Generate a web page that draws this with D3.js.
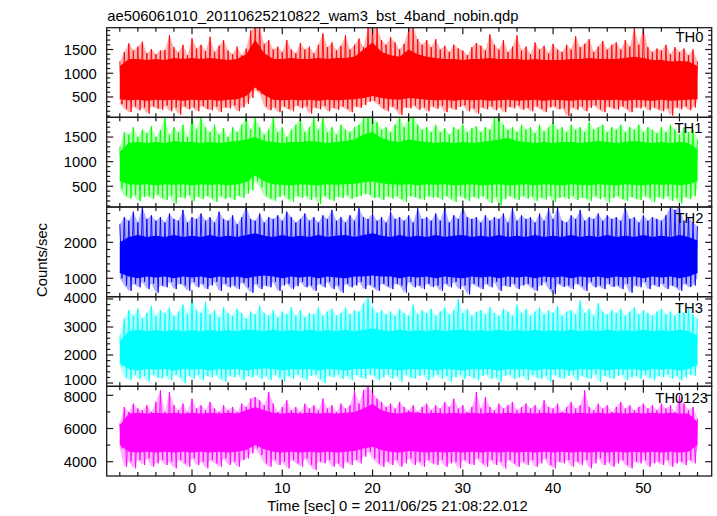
<!DOCTYPE html>
<html><head><meta charset="utf-8">
<script src="https://cdn.jsdelivr.net/npm/d3@7"></script>
<style>
body{margin:0;background:#fff}
text{font-family:"Liberation Sans",Arial,Helvetica,sans-serif;fill:#000}
</style>
</head><body>
<svg id="chart" width="717" height="516"></svg>
<script>
// ---------------- data ----------------
const title = "ae506061010_20110625210822_wam3_bst_4band_nobin.qdp";
const xLabel = "Time [sec] 0 = 2011/06/25 21:08:22.012";
const yLabel = "Counts/sec";
const bandNames = ["TH0", "TH1", "TH2", "TH3", "TH0123"];
const bandColors = ["#ff0000", "#00ff00", "#0000ff", "#00ffff", "#ff00ff"];
const tStart = -8;          // first sample time [s]
const spikeStep = 0.5;      // sampling of the max/min envelope [s]
const coreStep = 1;         // sampling of the dense band [s]
const xTickMajor = [0, 10, 20, 30, 40, 50];
const xTickMinorStep = 2;

// per-0.5 s maximum of the light curve
const th0Hi = [1250,1450,1630,1480,1560,1665,1420,1510,1400,1480,
 1490,1800,1550,1440,1600,1380,1735,1520,1600,1470,
 1770,1450,1580,1700,1480,1400,1560,1380,1520,1900,
 1960,1960,1620,1700,1500,1560,1450,1700,1500,1420,
 1640,1500,1560,1420,1600,1840,1550,1650,1480,1580,
 1800,1500,1600,1730,1550,1960,1950,1960,1700,1600,
 1760,1650,1500,1620,1940,1960,1720,1600,1700,1550,
 1720,1500,1580,1450,1600,1520,1480,1380,1550,1640,
 1580,1480,1820,1600,1500,1700,1450,1560,1800,1480,
 1560,1400,1650,1500,1580,1420,1620,1500,1450,1600,
 1500,1780,1550,1620,1720,1450,1560,1680,1500,1600,
 1650,1500,1700,1560,1960,1600,1960,1550,1450,1520,
 1480,1600,1400,1550,1450,1520,1380,1500,1250];
// per-0.5 s minimum
const th0Lo = [350,250,180,300,220,280,150,300,260,230,
 320,200,280,130,300,240,280,200,310,250,
 220,300,180,280,260,320,200,280,350,480,
 640,560,300,220,280,180,300,250,200,320,
 260,300,150,280,240,310,200,270,230,300,
 250,180,300,270,330,400,420,350,260,200,
 300,240,120,280,260,320,230,280,200,300,
 250,310,180,270,230,290,320,200,260,150,
 280,240,300,220,280,180,290,260,320,230,
 270,200,300,250,180,280,300,240,260,100,
 280,230,300,200,270,320,240,180,290,260,
 230,300,250,180,280,260,300,220,280,240,
 200,260,110,280,240,300,220,280,400];
// dense band, per 1 s
const th0CoreHi = [1150,1300,1300,1280,1300,1280,1320,1300,1320,1300,
 1320,1300,1280,1300,1400,1700,1420,1300,1300,1320,
 1300,1300,1320,1300,1320,1320,1350,1500,1650,1450,
 1380,1350,1500,1400,1350,1320,1300,1300,1280,1300,
 1300,1320,1300,1300,1300,1280,1300,1280,1280,1280,
 1300,1300,1320,1300,1300,1300,1320,1350,1320,1280,
 1280,1250,1260,1250,1150];
const th0CoreLo = [450,430,440,420,440,430,440,420,440,430,
 440,420,440,450,520,700,540,440,430,440,
 430,440,420,440,430,440,450,480,520,480,
 450,440,480,460,440,430,440,420,440,430,
 440,420,430,440,420,430,440,420,440,430,
 420,440,430,440,430,440,420,440,430,420,
 440,420,430,440,450];

const th1Hi = [1300,1600,1550,1700,1500,1650,1580,1720,1500,1640,
 1900,1550,1700,1600,1750,1500,1900,1650,1910,1700,
 1600,1750,1550,1680,1500,1700,1600,1750,1910,1650,
 1910,1700,1550,1650,1900,1600,1700,1500,1650,1750,
 1910,1600,1700,1910,1650,1910,1600,1700,1550,1750,
 1650,1600,1700,1750,1910,1910,1910,1800,1650,1700,
 1600,1750,1910,1700,1910,1910,1750,1650,1700,1600,
 1750,1600,1680,1550,1700,1650,1750,1600,1680,1720,
 1600,1700,1650,1910,1910,1750,1650,1700,1600,1750,
 1650,1700,1580,1750,1620,1700,1800,1650,1700,1600,
 1750,1650,1700,1600,1800,1650,1700,1750,1600,1700,
 1650,1750,1600,1700,1650,1750,1600,1700,1650,1580,
 1700,1600,1750,1650,1550,1700,1600,1650,1450];
const th1Lo = [450,300,250,320,200,280,300,240,330,260,
 220,310,150,280,250,320,200,290,240,300,
 260,180,300,240,280,220,310,260,350,420,
 600,480,300,250,200,280,320,240,180,300,
 260,300,220,280,140,300,250,200,290,260,
 320,240,280,300,350,330,260,280,220,300,
 250,300,240,180,300,280,250,220,300,260,
 280,230,300,250,180,300,260,200,290,240,
 300,250,160,280,110,240,300,260,220,300,
 250,290,200,270,230,300,180,260,280,240,
 300,220,270,250,200,300,240,280,170,260,
 300,240,200,280,250,220,300,260,180,280,
 240,300,200,260,150,280,240,300,450];
const th1CoreHi = [1200,1380,1400,1380,1400,1380,1420,1400,1400,1380,
 1400,1380,1400,1420,1450,1500,1420,1400,1380,1400,
 1400,1420,1400,1380,1400,1420,1450,1550,1600,1480,
 1420,1400,1450,1420,1400,1380,1400,1380,1400,1380,
 1400,1420,1450,1480,1420,1400,1380,1400,1380,1400,
 1400,1380,1400,1420,1400,1380,1400,1420,1400,1380,
 1400,1380,1400,1380,1250];
const th1CoreLo = [600,540,530,540,520,540,530,540,520,540,
 530,540,520,540,580,720,600,540,530,520,
 540,530,520,540,530,540,550,580,600,560,
 540,530,540,520,540,530,540,520,530,540,
 520,530,540,520,530,540,520,540,530,520,
 540,530,520,540,530,520,540,530,520,540,
 530,540,520,540,600];

const th2Hi = [2500,2700,2600,2850,2550,2980,2650,2750,2600,2700,
 2550,2800,2650,2600,2900,2550,2700,2650,2800,2600,
 2700,2550,2850,2650,2600,2750,2500,2700,2980,2650,
 2600,2800,2550,2700,2650,2750,2600,2850,2700,2550,
 2650,2800,2600,2700,2550,2750,2650,2900,2600,2700,
 2550,2750,2600,2950,2700,2650,2800,2600,2700,2550,
 2850,2650,2700,2600,2750,2550,2950,2650,2700,2600,
 2800,2600,2980,2550,2750,2650,2980,2700,2650,2700,
 2550,2750,2600,2700,2650,2800,2550,2980,2600,2750,
 2650,2700,2550,2800,2600,2950,2650,2980,2600,2550,
 2750,2650,2900,2600,2700,2650,2800,2600,2750,2650,
 2700,2600,2980,2650,2700,2550,2750,2600,2700,2650,
 2600,2750,2980,2900,2980,2600,2700,2550,2450];
const th2Lo = [1000,800,650,850,750,900,700,850,600,800,
 750,900,700,850,800,650,900,750,850,700,
 800,900,650,850,750,800,700,880,750,600,
 850,700,800,750,900,650,800,850,700,780,
 900,750,800,650,850,750,900,700,800,600,
 850,750,800,900,700,820,750,650,850,780,
 700,850,800,600,900,750,800,700,850,760,
 800,650,850,750,900,700,800,550,850,780,
 700,850,750,900,650,800,760,850,700,800,
 850,750,650,800,900,700,560,850,760,800,
 700,850,780,650,900,750,800,700,850,760,
 800,700,850,600,800,750,900,700,820,760,
 850,700,800,750,650,850,760,800,1000];
const th2CoreHi = [2000,2150,2200,2150,2180,2150,2200,2150,2180,2150,
 2200,2150,2180,2150,2200,2250,2180,2150,2200,2150,
 2180,2150,2200,2150,2180,2200,2150,2200,2250,2180,
 2150,2200,2150,2180,2150,2200,2150,2180,2200,2150,
 2180,2150,2200,2150,2180,2150,2200,2150,2180,2150,
 2200,2150,2180,2150,2200,2150,2180,2150,2200,2150,
 2180,2150,2200,2150,2050];
const th2CoreLo = [1150,1050,1000,1050,1020,1050,1000,1050,1020,1050,
 1000,1050,1020,1050,1000,1050,1080,1050,1000,1050,
 1020,1050,1000,1050,1020,1000,1050,1050,1080,1050,
 1050,1000,1050,1020,1050,1000,1050,1020,1000,1050,
 1020,1050,1000,1050,1020,1050,1000,1050,1020,1050,
 1000,1050,1020,1050,1000,1050,1020,1050,1000,1050,
 1020,1050,1000,1050,1150];

const th3Hi = [2700,3300,3600,3400,3650,3300,3500,3750,3400,3600,
 3500,3700,3400,3550,3800,3450,4000,3600,3500,3900,
 3450,3600,3350,3700,3500,3400,3650,3500,3300,3550,
 3450,3750,3500,3400,3600,3350,3550,3450,3700,3400,
 3600,3350,3500,3450,3700,3400,3550,3650,3400,3500,
 3700,3450,3600,3550,3850,4090,3700,3500,3600,3450,
 3550,3400,3650,3500,3400,3800,3450,3600,3500,3650,
 3400,3550,3700,3450,3600,4000,3500,3650,3400,3550,
 3600,3450,3700,3500,3400,3650,3550,3400,3800,3500,
 3650,3400,3550,3700,3450,3600,3500,3750,3400,3550,
 3600,3450,3950,3500,3650,3400,3850,3550,3450,3600,
 3500,3650,3400,3550,3700,3450,3600,3500,3400,3550,
 3650,3450,3550,3400,3600,3500,3650,3450,3300];
const th3Lo = [1600,1200,1100,1300,1150,1250,1050,1300,1200,1150,
 1250,1100,1300,1200,1000,1250,1150,1300,1100,1250,
 1200,1300,1150,1050,1250,1200,1300,1100,1250,1200,
 1300,1150,1250,1100,1300,1200,1050,1250,1150,1300,
 1200,1100,1250,1300,1150,1000,1250,1200,1300,1150,
 1250,1100,1300,1200,1150,1300,1250,1100,1200,1300,
 1150,1250,1050,1300,1200,1150,1250,1300,1100,1200,
 1300,1150,1250,1050,1200,1300,1150,1250,1200,1100,
 1250,1300,1150,1200,1050,1250,1300,1150,1200,1250,
 1100,1300,1200,1150,1250,1050,1300,1200,1150,1250,
 1300,1100,1250,1200,1150,1300,1050,1250,1200,1150,
 1250,1300,1100,1200,1250,1150,1300,1200,1100,1250,
 1200,1300,1150,1250,1100,1200,1300,1250,1600];
const th3CoreHi = [2500,2850,2900,2850,2880,2850,2900,2850,2880,2850,
 2900,2850,2880,2850,2900,2880,2850,2900,2850,2880,
 2850,2900,2850,2880,2850,2900,2850,2900,2950,2880,
 2850,2900,2850,2880,2850,2900,2850,2880,2900,2850,
 2880,2850,2900,2850,2880,2850,2900,2850,2880,2850,
 2900,2850,2880,2850,2900,2850,2880,2850,2900,2850,
 2880,2850,2900,2850,2700];
const th3CoreLo = [1700,1500,1450,1500,1480,1500,1450,1500,1480,1500,
 1450,1500,1480,1500,1450,1500,1520,1500,1450,1500,
 1480,1500,1450,1500,1480,1450,1500,1500,1520,1500,
 1500,1450,1500,1480,1500,1450,1500,1480,1450,1500,
 1480,1500,1450,1500,1480,1500,1450,1500,1480,1500,
 1450,1500,1480,1500,1450,1500,1480,1500,1450,1500,
 1480,1500,1450,1500,1650];

const th0123Hi = [6300,7300,7000,7500,7200,7100,7400,7000,7600,8300,
 7000,8200,7400,7100,7500,7000,7800,7200,7400,7100,
 7600,7200,7000,7400,7100,7300,7000,7500,7300,7800,
 7900,7700,7400,8200,7500,7000,7300,7700,7100,7300,
 7000,7500,7200,7400,7100,7800,7200,7400,7000,7500,
 7200,7400,8300,7500,8300,8540,8200,7800,7600,7300,
 7500,7200,7600,7300,7100,7400,7000,7300,7500,7100,
 7400,7200,7600,7300,7800,7200,7400,7000,7300,8200,
 7200,7900,7300,7100,7500,7200,7400,7600,7100,7300,
 7500,7200,7400,7100,7700,7300,7200,7500,7000,7300,
 7600,7200,7400,8300,7300,7100,7500,7200,7400,7000,
 7300,7600,7200,7400,7100,7300,7500,7200,7400,7100,
 7500,7200,7400,7000,8000,7500,7100,7300,6600];
const th0123Lo = [4800,3700,4000,3600,4100,3800,4200,3700,3900,4100,
 3800,4000,3600,4100,3900,3700,4200,3800,4000,3600,
 4100,3900,3700,4200,3800,4000,3700,4100,4200,4500,
 4800,4400,3900,3700,4100,3800,4000,3600,4100,3900,
 3700,4200,3800,3500,4000,3900,4100,3700,3900,3600,
 4000,3800,4100,3900,4300,4600,4200,3900,3700,4000,
 3800,4100,3700,3900,4200,3800,4000,3700,4100,3900,
 3800,4100,3700,3900,4000,3600,4100,3900,3800,4200,
 3900,3700,4100,3800,4000,3600,4100,3900,3700,4000,
 3800,4100,3700,3900,4200,3800,3600,4000,3900,4100,
 3700,4000,3800,4100,3600,3900,4200,3800,4000,3700,
 3900,4100,3800,3600,4000,3900,4100,3700,3900,4000,
 3800,4100,3700,3900,4000,3800,4100,3900,4800];
const th0123CoreHi = [6200,6900,6950,6900,6950,6900,6950,6900,6950,6900,
 6950,6900,6950,6900,7100,7300,7100,6950,6900,6950,
 6900,6950,6900,6950,6900,6950,7000,7200,7500,7100,
 6950,6900,7000,6950,6900,6950,6900,6950,6900,6950,
 6900,6950,6900,6950,6900,6950,6900,6950,6900,6950,
 6900,6950,6900,6950,6900,6950,6900,6950,6900,6950,
 6900,6950,6900,6900,6400];
const th0123CoreLo = [5000,4600,4550,4600,4550,4600,4550,4600,4550,4600,
 4550,4600,4550,4600,4700,5000,4750,4600,4550,4600,
 4550,4600,4550,4600,4550,4600,4650,4800,4900,4700,
 4600,4550,4650,4600,4550,4600,4550,4600,4550,4600,
 4550,4600,4550,4600,4550,4600,4550,4600,4550,4600,
 4550,4600,4550,4600,4550,4600,4550,4600,4550,4600,
 4550,4600,4550,4600,5000];

const bandHi = [th0Hi, th1Hi, th2Hi, th3Hi, th0123Hi];
const bandLo = [th0Lo, th1Lo, th2Lo, th3Lo, th0123Lo];
const bandCoreHi = [th0CoreHi, th1CoreHi, th2CoreHi, th3CoreHi, th0123CoreHi];
const bandCoreLo = [th0CoreLo, th1CoreLo, th2CoreLo, th3CoreLo, th0123CoreLo];

// axis ranges and ticks
const xDomain = [-9.45, 57.57];
const yDomains = [[70, 1960], [78, 1900], [489, 2981], [882, 4082], [3139, 8542]];
const yTickMajor = [[500, 1000, 1500], [500, 1000, 1500], [1000, 2000], [1000, 2000, 3000, 4000], [4000, 6000, 8000]];
const yTickMinorStep = [100, 100, 200, 200, 1000];

// ---------------- layout ----------------
const plotL = 106.7, plotR = 711.7, plotT = 27.7, plotB = 476;
const nP = bandNames.length;
const pH = (plotB - plotT) / nP;
const FONT = 14.8;
const AX = "#1a1a1a";

const svg = d3.select("#chart");
const x = d3.scaleLinear().domain(xDomain).range([plotL, plotR]);
const defs = svg.append("defs");

for (let p = 0; p < nP; p++) {
  const top = plotT + p * pH, bot = top + pH;
  const y = d3.scaleLinear().domain(yDomains[p]).range([bot, top]);
  const col = bandColors[p];

  defs.append("clipPath").attr("id", "clip" + p)
    .append("rect").attr("x", plotL).attr("y", top).attr("width", plotR - plotL).attr("height", pH);

  const g = svg.append("g").attr("clip-path", "url(#clip" + p + ")");

  const env = bandHi[p].map((v, k) => ({ t: tStart + k * spikeStep, hi: v, lo: bandLo[p][k] }));

  // faint fringe between the min/max envelope
  g.append("path").datum(env)
    .attr("d", d3.area().x(d => x(d.t)).y0(d => y(d.lo)).y1(d => y(d.hi)))
    .attr("fill", col).attr("fill-opacity", 0.3);

  // dense band
  const core = bandCoreHi[p].map((v, k) => ({ t: tStart + k * coreStep, hi: v, lo: bandCoreLo[p][k] }));
  g.append("path").datum(core)
    .attr("d", d3.area().x(d => x(d.t)).y0(d => y(d.lo)).y1(d => y(d.hi)))
    .attr("fill", col);

  // light curve envelope: max then min within each 0.5 s sample
  const pts = [];
  env.forEach(d => {
    pts.push([d.t, d.hi]);
    pts.push([d.t + spikeStep / 2, d.lo]);
  });
  g.append("path").datum(pts.slice(0, pts.length - 1))
    .attr("d", d3.line().x(d => x(d[0])).y(d => y(d[1])))
    .attr("fill", "none").attr("stroke", col).attr("stroke-width", 1)
    .attr("stroke-opacity", 0.9)
    .attr("stroke-linejoin", "miter").attr("stroke-miterlimit", 2);

  // frame
  svg.append("rect").attr("x", plotL).attr("y", top).attr("width", plotR - plotL).attr("height", pH)
    .attr("fill", "none").attr("stroke", AX).attr("stroke-width", 1.3);

  // x ticks (top & bottom of each panel, inward)
  const xt = d3.range(Math.ceil(xDomain[0] / xTickMinorStep) * xTickMinorStep, xDomain[1] + 1e-9, xTickMinorStep);
  xt.forEach(t => {
    const len = xTickMajor.includes(t) ? 6.5 : 4;
    const xx = x(t);
    svg.append("line").attr("x1", xx).attr("x2", xx).attr("y1", top).attr("y2", top + len).attr("stroke", AX).attr("stroke-width", 1.2);
    svg.append("line").attr("x1", xx).attr("x2", xx).attr("y1", bot).attr("y2", bot - len).attr("stroke", AX).attr("stroke-width", 1.2);
  });

  // y ticks (left & right, inward)
  const st = yTickMinorStep[p];
  const yt = d3.range(Math.ceil(yDomains[p][0] / st) * st, yDomains[p][1] + 1e-9, st);
  yt.forEach(v => {
    const len = yTickMajor[p].includes(v) ? 6.5 : 3.5;
    const yy = y(v);
    svg.append("line").attr("x1", plotL).attr("x2", plotL + len).attr("y1", yy).attr("y2", yy).attr("stroke", AX).attr("stroke-width", 1.2);
    svg.append("line").attr("x1", plotR).attr("x2", plotR - len).attr("y1", yy).attr("y2", yy).attr("stroke", AX).attr("stroke-width", 1.2);
  });

  // y tick labels (labels crowding a panel boundary are nudged apart slightly)
  yTickMajor[p].forEach(v => {
    let yy = y(v);
    if (yy - top < 6) yy = top + 1;
    else if (yy - top < 10 && p > 0) yy = yy + 1.6;
    if (bot - yy < 6) yy = bot - 6.5;
    svg.append("text").attr("x", plotL - 10).attr("y", yy).attr("dy", "0.36em")
      .attr("text-anchor", "end").attr("font-size", FONT).text(v);
  });
}

// panel names
const nameY = [41.7, 132.7, 223.3, 312.7, 403.3];
const nameX = [703.5, 702.5, 703.5, 703, 708];
bandNames.forEach((n, i) => {
  svg.append("text").attr("x", nameX[i]).attr("y", nameY[i]).attr("text-anchor", "end")
    .attr("font-size", FONT).text(n);
});

// x tick labels
xTickMajor.forEach(t => {
  svg.append("text").attr("x", x(t)).attr("y", 492.7).attr("text-anchor", "middle")
    .attr("font-size", FONT).text(t);
});

// titles
svg.append("text").attr("x", 107.3).attr("y", 20.7).attr("font-size", FONT).text(title);
svg.append("text").attr("x", 397.5).attr("y", 511).attr("text-anchor", "middle").attr("font-size", FONT).text(xLabel);
svg.append("text").attr("transform", "translate(46.5,260) rotate(-90)").attr("text-anchor", "middle")
  .attr("font-size", FONT).text(yLabel);
</script>
</body></html>
